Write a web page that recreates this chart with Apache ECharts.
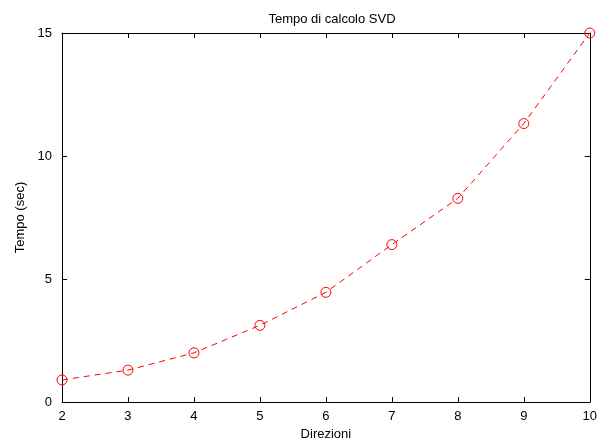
<!DOCTYPE html>
<html>
<head>
<meta charset="utf-8">
<script src="https://cdn.jsdelivr.net/npm/echarts@6/dist/echarts.min.js"></script>
<style>
  html, body { margin: 0; padding: 0; background: #fff; }
  #main { width: 600px; height: 446px; }
</style>
</head>
<body>
<div id="main"></div>
<script>
// directions and SVD timings
var directions = [2, 3, 4, 5, 6, 7, 8, 9, 10];
var seconds = [0.9, 1.3, 2.0, 3.12, 4.46, 6.4, 8.28, 11.32, 15.0];

var chart = echarts.init(document.getElementById('main'));

var font = 'Liberation Sans, Arial, sans-serif';
var axisLine = { show: true, onZero: false, lineStyle: { color: '#000', width: 1 } };
var tick = { show: true, inside: true, length: 5, lineStyle: { color: '#000' } };

chart.setOption({
  animation: false,
  backgroundColor: '#fff',
  title: {
    text: 'Tempo di calcolo SVD',
    left: 327,
    textAlign: 'center',
    top: 8,
    textStyle: { fontFamily: font, fontSize: 13, fontWeight: 'normal', color: '#000' }
  },
  grid: { left: 62, right: 8, top: 33, bottom: 43 },
  xAxis: [{
    type: 'value',
    min: 2, max: 10, interval: 1,
    name: 'Direzioni',
    nameLocation: 'middle',
    nameGap: 23,
    nameTextStyle: { fontFamily: font, fontSize: 13, color: '#000' },
    axisLine: axisLine,
    axisTick: tick,
    axisLabel: { fontFamily: font, fontSize: 13, color: '#000', margin: 8 },
    splitLine: { show: false }
  }, {
    type: 'value',
    position: 'top',
    min: 2, max: 10, interval: 1,
    axisLine: axisLine,
    axisTick: tick,
    axisLabel: { show: false },
    splitLine: { show: false }
  }],
  yAxis: [{
    type: 'value',
    min: 0, max: 15, interval: 5,
    name: 'Tempo (sec)',
    nameLocation: 'middle',
    nameGap: 34,
    nameTextStyle: { fontFamily: font, fontSize: 13, color: '#000' },
    axisLine: axisLine,
    axisTick: tick,
    axisLabel: { fontFamily: font, fontSize: 13, color: '#000', margin: 10 },
    splitLine: { show: false }
  }, {
    type: 'value',
    position: 'right',
    min: 0, max: 15, interval: 5,
    axisLine: axisLine,
    axisTick: tick,
    axisLabel: { show: false },
    splitLine: { show: false }
  }],
  series: [{
    type: 'line',
    data: directions.map(function (d, i) { return [d, seconds[i]]; }),
    symbol: 'circle',
    symbolSize: 10,
    itemStyle: { color: 'transparent', borderColor: '#ff0000', borderWidth: 1 },
    lineStyle: { color: '#ff0000', width: 1, type: [6, 5] },
    clip: false
  }]
});
</script>
</body>
</html>
